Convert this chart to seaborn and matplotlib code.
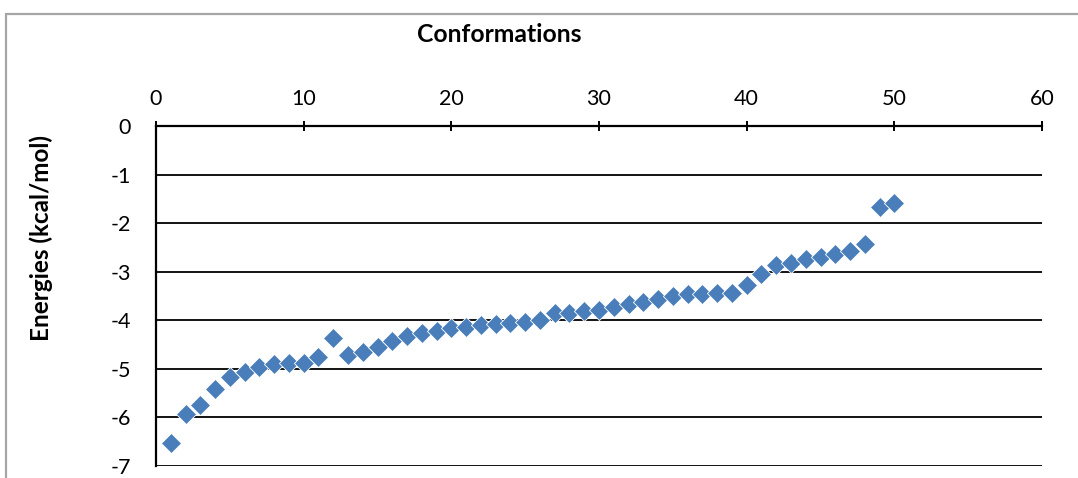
import matplotlib
matplotlib.use("Agg")
import matplotlib.pyplot as plt
from matplotlib.patches import Rectangle
import numpy as np
import pandas as pd
import seaborn as sns

# Conformation index and its docking energy (kcal/mol)
conformations = list(range(1, 51))
energies = [
    -6.52, -5.93, -5.75, -5.42, -5.17, -5.07, -4.96, -4.91, -4.87, -4.87,
    -4.76, -4.36, -4.72, -4.65, -4.56, -4.43, -4.33, -4.26, -4.22, -4.16,
    -4.14, -4.10, -4.08, -4.05, -4.04, -3.99, -3.86, -3.86, -3.81, -3.78,
    -3.73, -3.66, -3.62, -3.57, -3.51, -3.46, -3.46, -3.44, -3.44, -3.28,
    -3.04, -2.86, -2.82, -2.73, -2.70, -2.63, -2.58, -2.42, -1.66, -1.59,
]
x_ticks = [0, 10, 20, 30, 40, 50, 60]
y_ticks = [0, -1, -2, -3, -4, -5, -6, -7]

sns.set_theme(style="white")
plt.rcParams["font.family"] = ["Lato", "DejaVu Sans"]

df = pd.DataFrame({"Conformations": conformations, "Energy": energies})

W, H = 1078, 478
fig = plt.figure(figsize=(W / 100, H / 100), dpi=100)
fig.patch.set_facecolor("white")

# chart-area border
fig.add_artist(Rectangle((6 / W, -0.1), 1.2, (H - 14) / H + 0.1,
                         transform=fig.transFigure, fill=False,
                         edgecolor="#a6a6a6", linewidth=1.6, clip_on=False))

ax = fig.add_axes([156 / W, 12 / H, 886 / W, 340 / H])

sns.scatterplot(data=df, x="Conformations", y="Energy", ax=ax,
                marker="D", s=105, color="#4a7ebb",
                edgecolor="white", linewidth=0.6, zorder=3, legend=False)

ax.set_xlim(0, 60)
ax.set_ylim(-7, 0)
ax.set_xticks(x_ticks)
ax.set_yticks(y_ticks)
ax.set_xticklabels([str(v) for v in x_ticks])
ax.set_yticklabels([str(v) for v in y_ticks])

ax.xaxis.tick_top()
ax.tick_params(axis="x", direction="inout", length=7, width=1.4, color="black",
               labelsize=15.5, pad=9, top=True, bottom=False, labelcolor="black")
ax.tick_params(axis="y", length=0, labelsize=15.5, pad=18, labelcolor="black")

ax.grid(axis="y", color="black", linewidth=1.3)
ax.grid(axis="x", visible=False)
ax.set_axisbelow(True)

for side in ["right", "bottom"]:
    ax.spines[side].set_visible(False)
for side in ["left", "top"]:
    ax.spines[side].set_color("black")
    ax.spines[side].set_linewidth(1.6)

ax.set_xlabel("")
ax.set_ylabel("Energies (kcal/mol)", fontsize=17.5, fontweight="bold", color="black")
ax.yaxis.set_label_coords(-0.116, 0.67)

ax.text(0.387, 1.27, "Conformations", transform=ax.transAxes,
        ha="center", va="center", fontsize=17.8, fontweight="bold", color="black")

fig.savefig("out.png", dpi=100)
